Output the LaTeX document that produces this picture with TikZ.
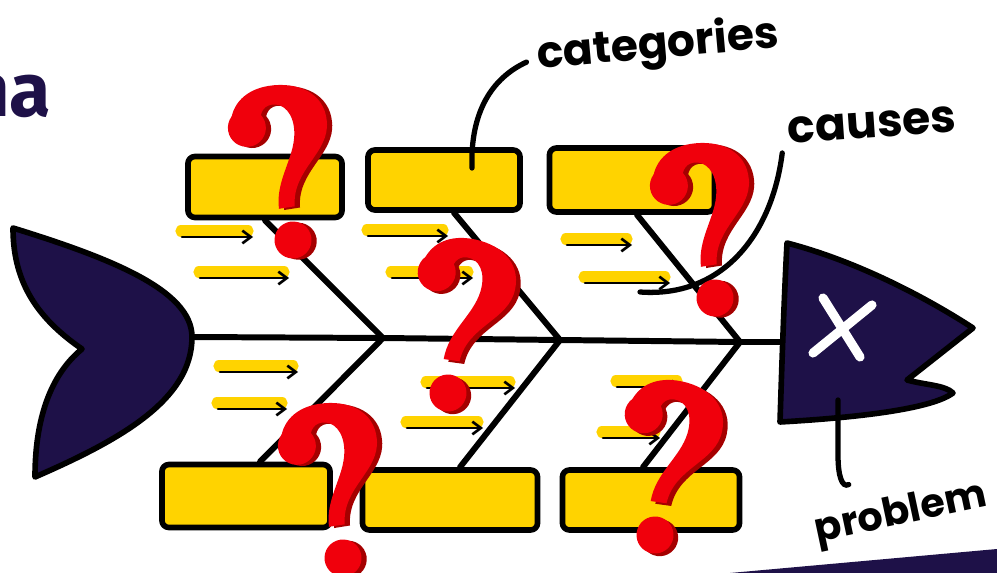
\documentclass[tikz,border=0pt]{standalone}
\usepackage{fontspec}
\setmainfont{Fira Sans}
\newfontfamily\handfont{Poppins}
\usetikzlibrary{arrows.meta}

\definecolor{fishnavy}{RGB}{30,17,72}
\definecolor{boxyellow}{RGB}{255,211,0}
\definecolor{qred}{RGB}{240,0,12}
\definecolor{qshade}{RGB}{165,0,0}

\tikzset{
  outline/.style={draw=black, line width=1.6pt, line join=round},
  fishpart/.style={outline, fill=fishnavy},
  bone/.style={draw=black, line width=1.7pt, line cap=round},
  catbox/.style={outline, fill=boxyellow, rounded corners=2pt, inner sep=0pt},
  hilite/.style={draw=boxyellow, line width=3.2pt, line cap=round},
  causearrow/.style={draw=black, line width=0.75pt, line cap=round,
    -{Straight Barb[length=2.4pt,width=3.6pt]}},
  leader/.style={draw=black, line width=1.5pt, line cap=round},
  handlabel/.style={font=\handfont\bfseries\fontsize{12.5}{14}\selectfont,
    inner sep=0pt, anchor=base},
  % big question mark, dot centre at the origin, shade drawn first
  qmark/.pic={
    \foreach \col/\dx/\dy in {qshade/5/2, qred/0/0}{
      \begin{scope}[shift={(\dx,\dy)}]
        \fill[\col] (-9,-33) .. controls (-8,-62) and (14,-80) .. (18,-105)
          .. controls (21,-125) and (12,-137) .. (0,-137)
          .. controls (-10,-137) and (-14,-128) .. (-14,-118)
          -- (-44,-122)
          .. controls (-40,-145) and (-22,-156) .. (0,-156)
          .. controls (30,-156) and (54,-140) .. (52,-112)
          .. controls (50,-80) and (10,-70) .. (7,-33) -- cycle;
        \fill[\col] (-28,-118) circle (19);
        \fill[\col] (0,0) circle (18.5);
      \end{scope}
    }
  }
}

\begin{document}
\begin{tikzpicture}[x=0.01cm, y=-0.01cm]
  \useasboundingbox (0,0) rectangle (997,573);

  % slide bits
  \fill[fishnavy] (730,573) -- (997,549) -- (997,573) -- cycle;
  \node[anchor=base east, inner sep=0pt, text=fishnavy,
        font=\bfseries\fontsize{21.5}{24}\selectfont] (title) at (52,117) {na};

  % spine
  \coordinate (tailend) at (192,337);
  \coordinate (j1) at (383,338);
  \coordinate (j2) at (560,340);
  \coordinate (j3) at (740,342);
  \coordinate (headend) at (784,342);
  \draw[bone] (tailend) -- (j1) -- (j2) -- (j3) -- (headend);

  % category boxes
  \node[catbox, minimum width=1.54cm, minimum height=0.61cm] (cat1) at (265,187) {};
  \node[catbox, minimum width=1.52cm, minimum height=0.60cm] (cat2) at (444,180) {};
  \node[catbox, minimum width=1.65cm, minimum height=0.64cm] (cat3) at (632,180) {};
  \node[catbox, minimum width=1.68cm, minimum height=0.63cm] (cat4) at (246,496) {};
  \node[catbox, minimum width=1.75cm, minimum height=0.60cm] (cat5) at (450,500) {};
  \node[catbox, minimum width=1.77cm, minimum height=0.60cm] (cat6) at (651,500) {};

  % bones
  \draw[bone] (cat1.south) -- (j1);
  \draw[bone] ([xshift=.1cm]cat2.south) -- (j2);
  \draw[bone] ([xshift=.05cm]cat3.south) -- (j3);
  \draw[bone] ([xshift=.14cm]cat4.north) -- (j1);
  \draw[bone] ([xshift=.1cm]cat5.north) -- (j2);
  \draw[bone] ([xshift=-.08cm]cat6.north) -- (j3);

  % causes
  \foreach \xa/\xb/\y in {182/253/237, 200/289/278, 220/298/372, 218/287/409,
                          368/448/236, 392/473/278, 427/515/388, 407/483/428,
                          567/632/245, 585/670/283, 617/682/387, 603/660/438}{
    \draw[hilite] (\xa-1,\y-6) -- (\xb-5,\y-6);
    \draw[causearrow] (\xa,\y) -- (\xb,\y);
  }

  % tail and head
  \draw[fishpart] (13,228) .. controls (110,258) and (192,290) .. (tailend)
    .. controls (192,400) and (120,440) .. (35,477)
    .. controls (35,420) and (50,375) .. (82,349)
    .. controls (40,320) and (13,285) .. (13,228) -- cycle;
  \draw[fishpart] (787,243) .. controls (860,262) and (930,300) .. (973,328)
    -- (907,380) .. controls (925,385) and (945,385) .. (953,393)
    .. controls (930,410) and (850,418) .. (780,422)
    .. controls (782,360) and (784,300) .. (787,243) -- cycle;
  \draw[white, line width=2.6pt, line cap=round]
    (823,298) -- (860,357) (872,305) -- (813,353);

  % labels
  \node[handlabel, rotate=5] (cats) at (659,58) {categories};
  \node[handlabel, rotate=4, font=\handfont\bfseries\fontsize{13}{15}\selectfont]
    (causes) at (873,138) {causes};
  \node[handlabel, rotate=12, font=\handfont\bfseries\fontsize{11.3}{13}\selectfont]
    (prob) at (903,524) {problem};

  \coordinate (headpt) at (838,400);
  \coordinate (causetip) at (640,292);
  \draw[leader] ([xshift=.28cm,yshift=.12cm]cat2.center)
    .. controls (470,112) and (492,78) .. ([xshift=-.1cm,yshift=-.05cm]cats.west);
  \draw[leader] ([xshift=-.06cm,yshift=-.08cm]causes.south west)
    .. controls (772,235) and (722,298) .. (causetip);
  \draw[leader] (headpt) -- (838,455)
    .. controls (838,476) and (842,488) .. ([xshift=-.48cm,yshift=.1cm]prob.north);

  % question marks
  \pic[rotate=9] at (293,240) {qmark};
  \pic[rotate=-8] at (448,393) {qmark};
  \pic[rotate=9] at (715,298) {qmark};
  \pic[rotate=9] at (343,558) {qmark};
  \pic[rotate=-8] at (655,535) {qmark};
\end{tikzpicture}
\end{document}
